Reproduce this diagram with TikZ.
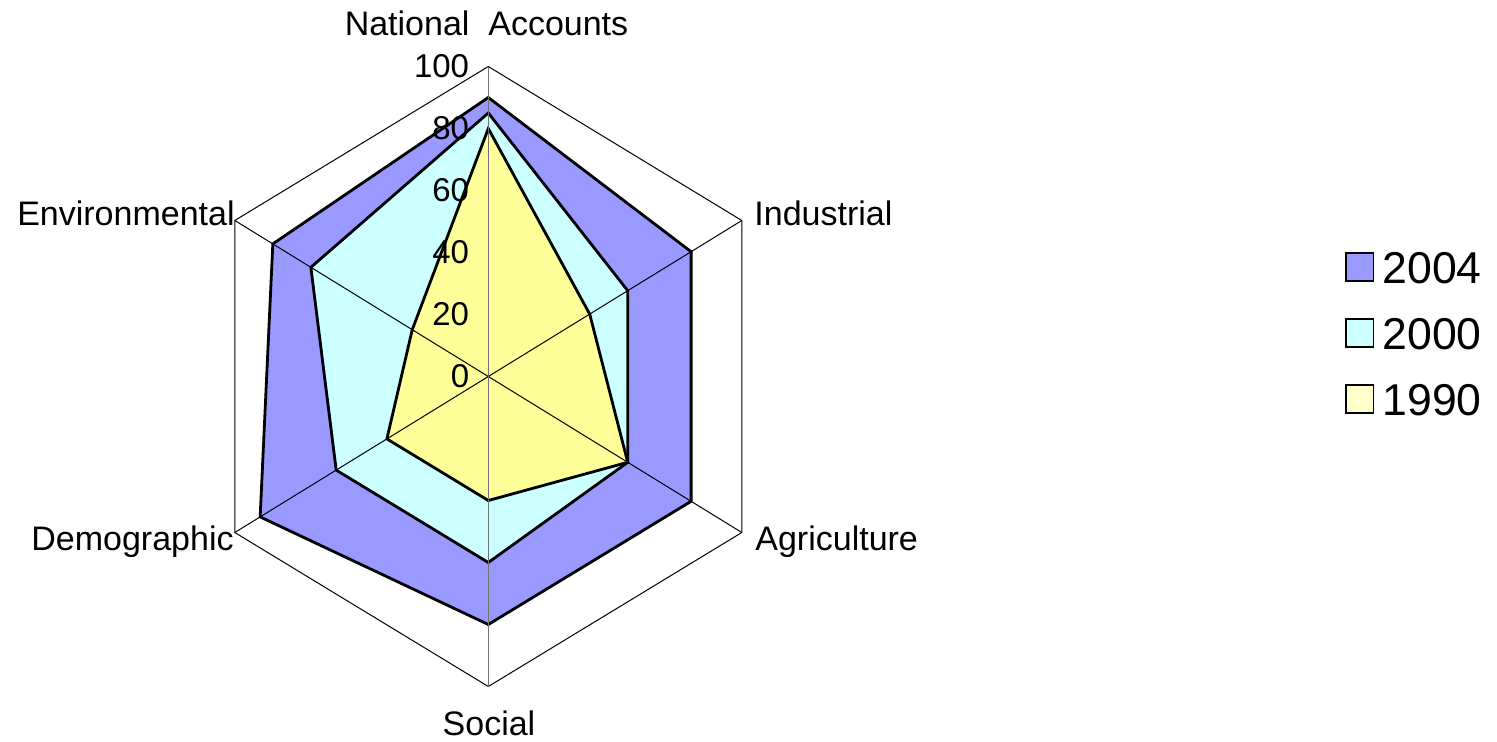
\documentclass[tikz,border=0pt]{standalone}
\usepackage{fontspec}
\setmainfont{Liberation Sans}
\usetikzlibrary{calc}
\definecolor{c2004}{HTML}{9999FF}
\definecolor{c2000}{HTML}{CCFFFF}
\definecolor{c1990}{HTML}{FFFF99}
\definecolor{c1990leg}{HTML}{FFFFCC}
\begin{document}
\begin{tikzpicture}[x=0.5pt,y=0.5pt,
  gridline/.style={line width=0.5pt,black},
  series/.style={line width=1.4pt,draw=black,line join=miter},
  axlabel/.style={inner sep=0pt,font=\fontsize{17}{20}\selectfont},
  ticklabel/.style={inner sep=0pt,anchor=east,font=\fontsize{16.5}{19}\selectfont},
  legtext/.style={inner sep=0pt,anchor=base west,font=\fontsize{22.3}{26}\selectfont},
  legbox/.style={draw=black,line width=0.75pt}]
\useasboundingbox (0,0) rectangle (1497,741);
\begin{scope}[shift={(488.3,364.5)}]
  \coordinate (O) at (0,0);
  \coordinate (NA) at (0,310);
  \coordinate (IN) at (253.5,156);
  \coordinate (AG) at (253.5,-156);
  \coordinate (SO) at (0,-310);
  \coordinate (DE) at (-253.5,-156);
  \coordinate (EN) at (-253.5,156);
  \draw[gridline] (NA) -- (IN) -- (AG) -- (SO) -- (DE) -- (EN) -- cycle;
  % 2004
  \draw[series,fill=c2004] ($(O)!0.90!(NA)$) -- ($(O)!0.80!(IN)$) -- ($(O)!0.80!(AG)$) -- ($(O)!0.80!(SO)$) -- ($(O)!0.90!(DE)$) -- ($(O)!0.85!(EN)$) -- cycle;
  % 2000
  \draw[series,fill=c2000] ($(O)!0.85!(NA)$) -- ($(O)!0.55!(IN)$) -- ($(O)!0.55!(AG)$) -- ($(O)!0.60!(SO)$) -- ($(O)!0.60!(DE)$) -- ($(O)!0.70!(EN)$) -- cycle;
  % 1990
  \draw[series,fill=c1990] ($(O)!0.80!(NA)$) -- ($(O)!0.40!(IN)$) -- ($(O)!0.55!(AG)$) -- ($(O)!0.40!(SO)$) -- ($(O)!0.40!(DE)$) -- ($(O)!0.30!(EN)$) -- cycle;
  % spokes
  \draw[gridline] (O) -- (IN) (O) -- (AG) (O) -- (DE) (O) -- (EN);
  \draw[gridline,black!55] (SO) -- (NA);
  % tick labels
  \foreach \v in {0,20,40,60,80,100} {
    \node[ticklabel] (t\v) at (-18.8,3.1*\v) {\v};
  }
\end{scope}
% axis labels
\node[axlabel,anchor=base] (lNA) at (486.5,741-36) {National\ \ Accounts};
\node[axlabel,anchor=base west] (lIN) at (754,741-225) {Industrial};
\node[axlabel,anchor=base west] (lAG) at (755,741-550) {Agriculture};
\node[axlabel,anchor=base] (lSO) at (489,741-735.5) {Social};
\node[axlabel,anchor=base east] (lDE) at (234,741-550) {Demographic};
\node[axlabel,anchor=base east] (lEN) at (235,741-225) {Environmental};
% legend
\draw[legbox,fill=c2004] (1346,741-253) rectangle (1373.3,741-281);
\draw[legbox,fill=c2000] (1346,741-319) rectangle (1373.3,741-347);
\draw[legbox,fill=c1990leg] (1346,741-385) rectangle (1373.3,741-413);
\node[legtext] (g2004) at (1382,741-283) {2004};
\node[legtext] (g2000) at (1382,741-349) {2000};
\node[legtext] (g1990) at (1382,741-415) {1990};
\end{tikzpicture}
\end{document}
